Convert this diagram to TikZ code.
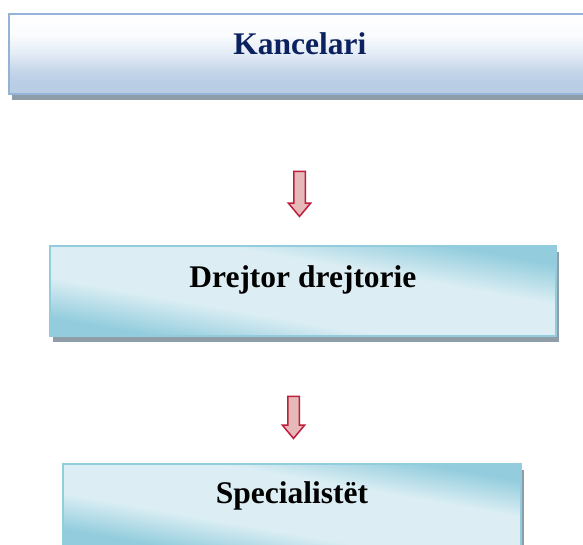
\documentclass[tikz,border=0pt]{standalone}
\usepackage{fontspec}
\setmainfont{Liberation Serif}
\usepackage{xcolor}
\usepackage{tikz}
\usetikzlibrary{shapes.arrows,shadows,positioning}

\definecolor{kborder}{HTML}{95B3D7}
\definecolor{kfill}{HTML}{B9CDE5}
\definecolor{ktext}{HTML}{0C215F}
\definecolor{cborder}{HTML}{93CDDD}
\definecolor{cdark}{HTML}{93CDDD}
\definecolor{clight}{HTML}{DCEEF4}
\definecolor{shgray}{HTML}{8F9DA8}
\definecolor{arrfill}{HTML}{E6B9B8}
\definecolor{arrdraw}{HTML}{BE1E3C}

% white at the top, blue at the bottom
\pgfdeclareverticalshading{kshade}{100bp}{color(0bp)=(kfill); color(32bp)=(kfill);
  color(40bp)=(kfill!80!white); color(50bp)=(kfill!40!white);
  color(62bp)=(kfill!7!white); color(75bp)=(white); color(100bp)=(white)}
% dark corners, light band along the diagonal
\pgfdeclarehorizontalshading{cshade}{100bp}{color(0bp)=(cdark); color(27bp)=(cdark);
  color(40bp)=(clight); color(60bp)=(clight); color(73bp)=(cdark); color(100bp)=(cdark)}

\begin{document}
\begin{tikzpicture}[
  x=1pt, y=-1pt,
  box/.style   = {inner sep=0pt, line width=1.8pt, anchor=north west,
                  font=\fontsize{31.5}{36}\selectfont\bfseries,
                  drop shadow={shadow xshift=3pt, shadow yshift=-6pt,
                               fill=shgray, opacity=1}},
  topbox/.style = {box, draw=kborder, shading=kshade, text=ktext},
  unitbox/.style = {box, draw=cborder, shading=cshade, shading angle=80},
  downarr/.style = {single arrow, draw=arrdraw, fill=arrfill, line width=1.5pt,
                    rotate=-90, inner sep=5pt, single arrow head extend=5.5pt,
                    single arrow tip angle=80, single arrow head indent=0pt},
]
\fill[white] (0,0) rectangle (583,544);
\useasboundingbox (0,0) rectangle (583,544);

\node[topbox, minimum width=582pt, text height=41pt, text depth=39pt]
    (kanc) at (8,13) {Kancelari};
\node[unitbox, minimum width=506pt, text height=42pt, text depth=48pt]
    (drej) at (49,245) {Drejtor drejtorie};
\node[unitbox, minimum width=458pt, text height=40pt, text depth=42pt]
    (spec) at (62,463) {Specialistët};

\node[downarr, minimum height=45pt] (arr1) at (299.5,190.5) {};
\node[downarr, minimum height=42pt] (arr2) at (293.5,414) {};
\end{tikzpicture}
\end{document}
